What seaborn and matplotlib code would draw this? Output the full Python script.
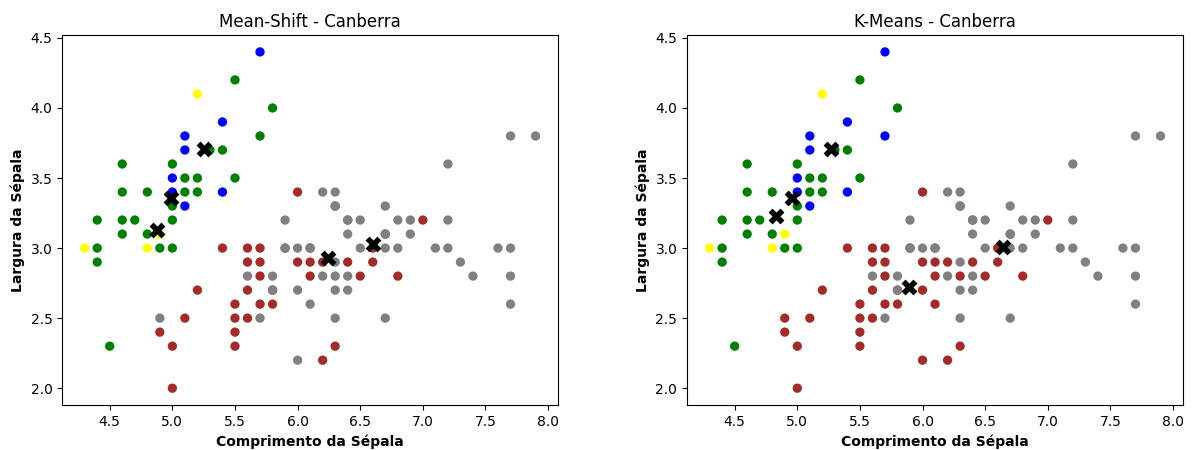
import pandas as pd
import matplotlib
matplotlib.use("Agg")
import matplotlib.pyplot as plt
import seaborn as sns

cores = {"G": "green", "B": "blue", "Y": "yellow", "R": "brown", "C": "gray"}

# pontos repetidos (castanho por baixo do cinzento)
dup_comp = [5.9, 6.3, 6.4, 6.7, 5.8, 6.1]
dup_larg = [3.0, 3.3, 3.2, 3.1, 2.7, 3.0]

comprimento = [
    5.7, 5.5, 5.2, 5.8, 5.4,
    5.1, 5.7, 7.7, 7.9,
    5.1, 5.3, 5.4,
    4.6, 5.0, 7.2,
    5.0, 5.1, 5.2, 5.5,
    4.6, 4.8, 5.0, 5.1, 5.2, 5.4, 6.0, 6.2, 6.3,
    5.0, 5.1, 6.3, 6.7,
    4.4, 4.6, 4.7, 5.0, 5.9, 6.4, 6.5, 6.8, 6.9, 7.0, 7.2,
    4.6, 4.8, 4.9, 6.4, 6.7, 6.9,
    4.3, 4.4, 4.8, 4.9, 5.0, 5.4, 5.6, 5.7, 5.9, 6.0, 6.1, 6.5, 6.6, 6.7, 6.8, 7.1, 7.2, 7.6, 7.7,
    4.4, 5.6, 5.7, 6.0, 6.1, 6.2, 6.3, 6.4, 6.6, 7.3,
    5.6, 5.7, 5.8, 6.1, 6.2, 6.3, 6.4, 6.5, 6.8, 7.4, 7.7,
    5.2, 5.6, 5.8, 6.0, 6.3, 6.4,
    5.5, 5.7, 5.8, 6.1, 7.7,
    4.9, 5.1, 5.5, 5.6, 5.7, 6.3, 6.7,
    4.9, 5.5,
    4.5, 5.0, 5.5, 6.3,
    6.0, 6.2,
    5.0,
]
largura = [
    4.4, 4.2, 4.1, 4.0, 3.9,
    3.8, 3.8, 3.8, 3.8,
    3.7, 3.7, 3.7,
    3.6, 3.6, 3.6,
    3.5, 3.5, 3.5, 3.5,
    3.4, 3.4, 3.4, 3.4, 3.4, 3.4, 3.4, 3.4, 3.4,
    3.3, 3.3, 3.3, 3.3,
    3.2, 3.2, 3.2, 3.2, 3.2, 3.2, 3.2, 3.2, 3.2, 3.2, 3.2,
    3.1, 3.1, 3.1, 3.1, 3.1, 3.1,
    3.0, 3.0, 3.0, 3.0, 3.0, 3.0, 3.0, 3.0, 3.0, 3.0, 3.0, 3.0, 3.0, 3.0, 3.0, 3.0, 3.0, 3.0, 3.0,
    2.9, 2.9, 2.9, 2.9, 2.9, 2.9, 2.9, 2.9, 2.9, 2.9,
    2.8, 2.8, 2.8, 2.8, 2.8, 2.8, 2.8, 2.8, 2.8, 2.8, 2.8,
    2.7, 2.7, 2.7, 2.7, 2.7, 2.7,
    2.6, 2.6, 2.6, 2.6, 2.6,
    2.5, 2.5, 2.5, 2.5, 2.5, 2.5, 2.5,
    2.4, 2.4,
    2.3, 2.3, 2.3, 2.3,
    2.2, 2.2,
    2.0,
]
grupo_ms = list(
    "BGYGB"
    "BGCC"
    "BGG"
    "GGC"
    "BGGG"
    "GGBGGBRCC"
    "GBCC"
    "GGGGCCCCCRC"
    "GGYCCC"
    "YGYGGRRRCCCCRCCCCCC"
    "GRRRRRCRRC"
    "CRCRCCCRRCC"
    "RRCCCC"
    "RRRCC"
    "CRRRCCC"
    "RR"
    "GRRR"
    "CR"
    "R"
)
grupo_km = list(
    "BGYGB"
    "BBCC"
    "BGG"
    "GGC"
    "BGGG"
    "GGBGGBRCC"
    "GBCC"
    "GGGGCCCCCRC"
    "GGYCCC"
    "YGYGGRRRCCCCRCCCCCC"
    "GRRRRRCRRC"
    "CRCRCRCRRCC"
    "RRCRCC"
    "RRRRC"
    "RRRRCCC"
    "RR"
    "GRRR"
    "RR"
    "R"
)

# centróides
ms_cx = [5.25, 4.99, 4.88, 6.24, 6.60]
ms_cy = [3.71, 3.36, 3.13, 2.93, 3.03]
km_cx = [5.27, 4.96, 4.83, 5.89, 6.64]
km_cy = [3.71, 3.36, 3.23, 2.72, 3.01]

x_all = dup_comp + comprimento
y_all = dup_larg + largura

fig, axs = plt.subplots(1, 2, figsize=(11.95, 4.5), dpi=100)
plt.subplots_adjust(left=0.052, right=0.99, top=0.922, bottom=0.1, wspace=0.26)

paineis = [
    ("Mean-Shift - Canberra", grupo_ms, ms_cx, ms_cy),
    ("K-Means - Canberra", grupo_km, km_cx, km_cy),
]
for ax, (titulo, grupos, cx, cy) in zip(axs, paineis):
    df = pd.DataFrame({"x": x_all, "y": y_all, "g": ["R"] * len(dup_comp) + grupos})
    sns.scatterplot(df, x="x", y="y", hue="g", palette=cores, s=45, linewidth=0,
                    legend=False, ax=ax)
    sns.scatterplot(x=cx, y=cy, marker="X", color="black", s=130, linewidth=0, ax=ax)
    ax.set_title(titulo)
    ax.set_xlabel("Comprimento da Sépala", fontweight="bold")
    ax.set_ylabel("Largura da Sépala", fontweight="bold")

plt.savefig("out.png", dpi=100)
